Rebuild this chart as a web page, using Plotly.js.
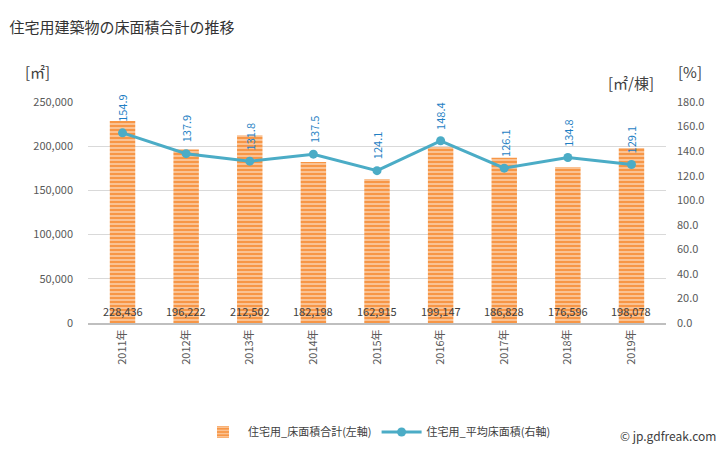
<!DOCTYPE html>
<html><head><meta charset="utf-8">
<script src="https://cdn.plot.ly/plotly-3.0.1.min.js"></script>
<style>body{margin:0;background:#fff}#c{width:728px;height:450px}</style>
</head><body><div id="c"></div>
<script>
const years = ["2011年","2012年","2013年","2014年","2015年","2016年","2017年","2018年","2019年"];
const floorArea = [228436,196222,212502,182198,162915,199147,186828,176596,198078];
const avgArea = [154.9,137.9,131.8,137.5,124.1,148.4,126.1,134.8,129.1];
const leftTicks = [0,50000,100000,150000,200000,250000];
const rightTicks = [0,20,40,60,80,100,120,140,160,180];

const font = "'Noto Sans CJK JP', 'Noto Sans', sans-serif";
const traces = [
  {type:'bar', x:years, y:floorArea, name:'住宅用_床面積合計(左軸)', width:0.4,
   marker:{color:'#f79646', pattern:{shape:'-', fgcolor:'#fcd5b4', bgcolor:'#f79646', size:4, solidity:0.35}},
   hoverinfo:'skip'},
  {type:'scatter', mode:'lines+markers', x:years, y:avgArea, yaxis:'y2', name:'住宅用_平均床面積(右軸)',
   line:{color:'#4bacc6', width:3}, marker:{color:'#4bacc6', size:9}}
];
const annotations = [];
years.forEach((yr,i)=>{
  annotations.push({x:yr, y:0, xref:'x', yref:'y', text:floorArea[i].toLocaleString('en-US'),
    showarrow:false, yanchor:'bottom', yshift:2, font:{family:font, size:11, color:'#404040'}});
  annotations.push({x:yr, y:avgArea[i], xref:'x', yref:'y2', text:avgArea[i].toFixed(1), textangle:-90,
    showarrow:false, yanchor:'bottom', yshift:9, font:{family:font, size:11, color:'#1f7fc4'}});
});
annotations.push({xref:'paper', yref:'paper', x:-0.112, y:1.08, text:'[㎡]', showarrow:false, xanchor:'left', yanchor:'bottom', font:{family:font,size:15,color:'#404040'}});
annotations.push({xref:'paper', yref:'paper', x:0.897, y:1.03, text:'[㎡/棟]', showarrow:false, xanchor:'left', yanchor:'bottom', font:{family:font,size:15,color:'#404040'}});
annotations.push({xref:'paper', yref:'paper', x:1.018, y:1.08, text:'[%]', showarrow:false, xanchor:'left', yanchor:'bottom', font:{family:font,size:15,color:'#404040'}});
annotations.push({xref:'paper', yref:'paper', x:1.09, y:-0.511, text:'© jp.gdfreak.com', showarrow:false, xanchor:'right', yanchor:'middle', font:{family:font,size:12,color:'#404040'}});

const layout = {
  width:728, height:450, margin:{l:88, r:62, t:102, b:127},
  paper_bgcolor:'#fff', plot_bgcolor:'#fff',
  title:{text:'住宅用建築物の床面積合計の推移', x:0.013, xanchor:'left', y:0.95, font:{family:font, size:15, color:'#333'}},
  font:{family:font, color:'#595959'},
  showlegend:true,
  legend:{orientation:'h', x:0.5, xanchor:'center', yref:'container', y:0.04, yanchor:'middle', font:{family:font,size:11,color:'#404040'}, itemwidth:40},
  xaxis:{type:'category', tickangle:-90, tickfont:{size:11,color:'#595959'}, showline:true, linecolor:'#bfbfbf', linewidth:2, ticks:'', showgrid:false, fixedrange:true},
  yaxis:{range:[0,250000], tickvals:leftTicks, ticktext:leftTicks.map(v=>v.toLocaleString('en-US')), showgrid:true, gridcolor:'#d9d9d9', zeroline:false, ticks:'', ticklabelstandoff:14, tickfont:{size:11,color:'#595959'}},
  yaxis2:{range:[0,180], overlaying:'y', side:'right', tickvals:rightTicks, ticktext:rightTicks.map(v=>v.toFixed(1)), showgrid:false, zeroline:false, ticks:'', ticklabelstandoff:10, tickfont:{size:11,color:'#595959'}},
  annotations:annotations
};
Plotly.newPlot('c', traces, layout, {displayModeBar:false, staticPlot:true});
</script></body></html>
